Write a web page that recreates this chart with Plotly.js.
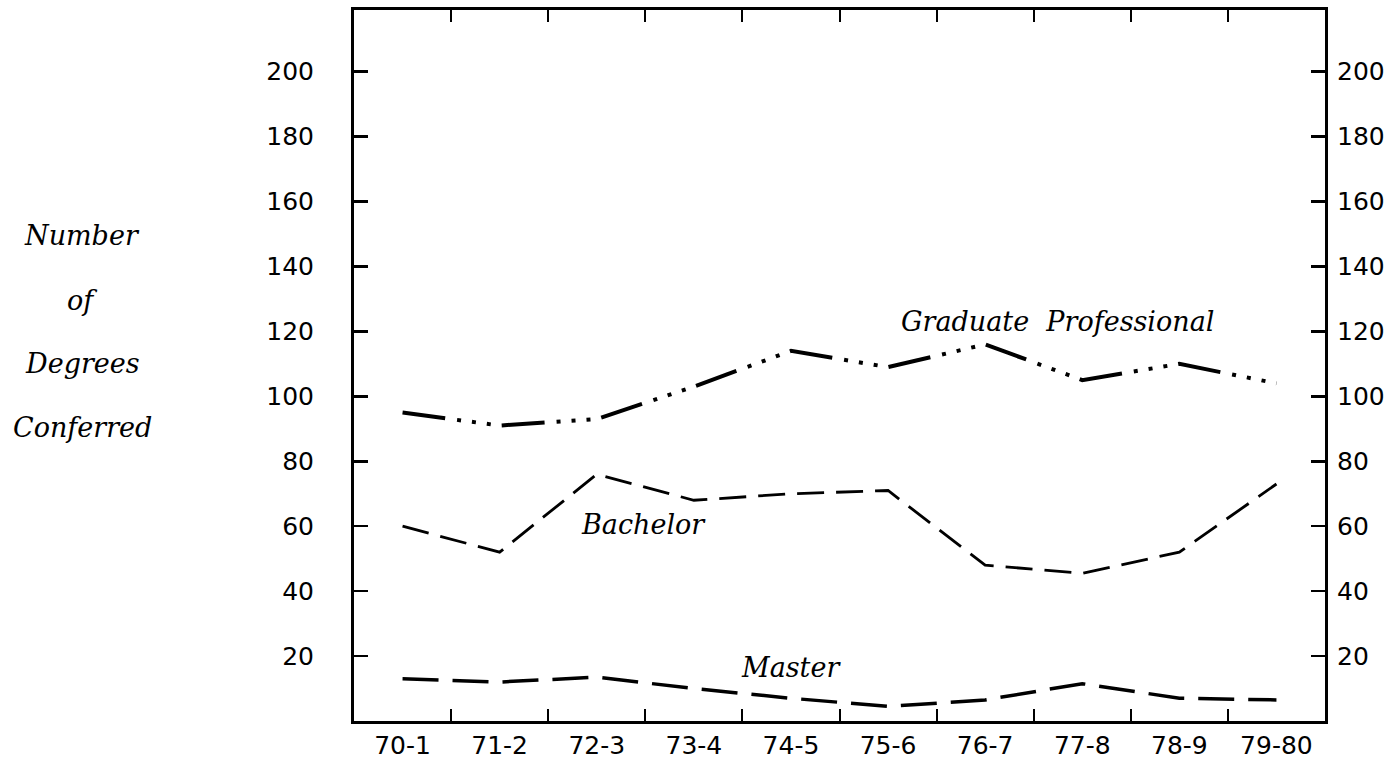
<!DOCTYPE html>
<html>
<head>
<meta charset="utf-8">
<script src="https://cdn.plot.ly/plotly-3.0.1.min.js"></script>
<style>html,body{margin:0;padding:0;background:#fff;}#chart{width:1386px;height:761px;}</style>
</head>
<body>
<div id="chart"></div>
<script>
const years = ['70-1','71-2','72-3','73-4','74-5','75-6','76-7','77-8','78-9','79-80'];
const graduateProfessional = [95, 91, 93, 103, 114, 109, 116, 105, 110, 104];
const bachelor = [60, 52, 76, 68, 70, 71, 48, 45.5, 52, 73];
const master = [13, 12, 13.5, 10, 7, 4.5, 6.5, 11.5, 7, 6.5];
const yTicks = [20, 40, 60, 80, 100, 120, 140, 160, 180, 200];
const yTitleLines = ['Number', 'of', 'Degrees', 'Conferred'];
const seriesLabels = ['Graduate  Professional', 'Bachelor', 'Master'];

const italicFont = {family: 'DejaVu Serif', size: 27, color: '#000', style: 'italic'};
const yTickFont = {family: 'DejaVu Sans', size: 25, color: '#000'};
const xTickFont = {family: 'DejaVu Sans', size: 25, color: '#000'};

const traces = [
  {x: years, y: graduateProfessional, type: 'scatter', mode: 'lines', name: seriesLabels[0], yaxis: 'y2',
   line: {color: '#000', width: 4, dash: '43px,12px,4px,11px,4px,11px,4px,11px'}},
  {x: years, y: bachelor, type: 'scatter', mode: 'lines', name: seriesLabels[1],
   line: {color: '#000', width: 2.8, dash: '27px,12px'}},
  {x: years, y: master, type: 'scatter', mode: 'lines', name: seriesLabels[2],
   line: {color: '#000', width: 3.5, dash: '36px,14px'}}
];

const annotations = [
  {x: 6.75, y: 123, xref: 'x', yref: 'y', text: seriesLabels[0], showarrow: false, font: italicFont},
  {x: 2.48, y: 60.5, xref: 'x', yref: 'y', text: seriesLabels[1], showarrow: false, font: italicFont},
  {x: 4.0, y: 16.6, xref: 'x', yref: 'y', text: seriesLabels[2], showarrow: false, font: italicFont}
];
const titleY = [0.6835, 0.592, 0.5035, 0.4135];
yTitleLines.forEach((t, i) => annotations.push({
  x: -0.28, y: titleY[i], xref: 'paper', yref: 'paper', text: t, showarrow: false,
  xanchor: 'center', yanchor: 'middle', font: italicFont
}));

const yCommon = {
  range: [0, 219], tickvals: yTicks, ticktext: yTicks.map(String),
  ticks: 'inside', ticklen: 14, tickwidth: 2.5, tickcolor: '#000',
  showline: true, linecolor: '#000', linewidth: 3, showgrid: false, zeroline: false,
  tickfont: yTickFont, fixedrange: true
};

const layout = {
  width: 1386, height: 761,
  margin: {l: 354, r: 61, t: 10, b: 40},
  paper_bgcolor: '#fff', plot_bgcolor: '#fff',
  showlegend: false,
  xaxis: {
    type: 'category', range: [-0.5, 9.5], tickson: 'boundaries',
    ticks: 'inside', ticklen: 12, tickwidth: 2, tickcolor: '#000',
    showline: true, linecolor: '#000', linewidth: 3, mirror: 'ticks',
    showgrid: false, zeroline: false, tickfont: xTickFont, ticklabelstandoff: 0
  },
  yaxis: Object.assign({}, yCommon, {mirror: true, ticklabelstandoff: 32}),
  yaxis2: Object.assign({}, yCommon, {overlaying: 'y', side: 'right', anchor: 'x', ticklabelstandoff: 4}),
  annotations: annotations
};

Plotly.newPlot('chart', traces, layout, {staticPlot: true});
</script>
</body>
</html>
